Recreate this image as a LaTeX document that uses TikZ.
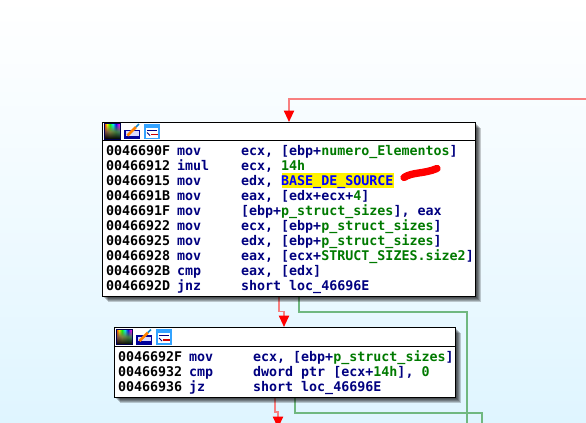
\documentclass[tikz,border=0pt]{standalone}
\usepackage{fontspec}
\setmonofont{DejaVu Sans Mono}
\usetikzlibrary{arrows.meta}
\definecolor{navyc}{HTML}{000080}
\definecolor{greenc}{HTML}{007A00}
\definecolor{bluec}{HTML}{0000FF}
\definecolor{redline}{HTML}{F88080}
\definecolor{greenline}{HTML}{70B880}
\definecolor{redhead}{HTML}{FF0000}
\definecolor{bgtop}{HTML}{FFFFFF}
\definecolor{bgmid}{HTML}{F0FAFF}
\definecolor{bgbot}{HTML}{DFF5FF}
\newcommand{\gn}[1]{\textcolor{greenc}{#1}}
\newcommand{\asmline}[5]{%
  \node[asmtext,text=black] (#1a) at (#2,#3) {#4};
  \node[asmtext,text=navyc] (#1b) at ([xshift=53.25pt]#1a.west) {#5};
}
\newcommand{\asmops}[3]{\node[asmtext,text=navyc] (#1c) at ([xshift=101.25pt]#1a.west) {#3};}
\tikzset{
  x=0.75pt,y=-0.75pt,
  asmtext/.style={anchor=west,inner sep=0pt,outer sep=0pt,font=\ttfamily\bfseries\fontsize{10}{10}\selectfont,text height=7pt,text depth=1.5pt},
  asmbox/.style={draw=black,line width=0.9pt,fill=white,rectangle,inner sep=0pt,anchor=north west},
  redflow/.style={draw=redline,line width=1.4pt},
  greenflow/.style={draw=greenline,line width=1.25pt},
  redtip/.style={-{Triangle[length=8.5pt,width=7.5pt,color=redhead]}},
  shadowfill/.style={fill=black,fill opacity=0.2,draw=none}
}
\begin{document}
\begin{tikzpicture}
\useasboundingbox (0,0) rectangle (586,422);
\shade[top color=bgtop,bottom color=bgbot,middle color=bgmid] (0,0) rectangle (586,422);
\clip (0,0) rectangle (586,422);

% connectors drawn first
\coordinate (topright) at (586,99);
\coordinate (bend1) at (289,99);
\coordinate (inA) at (289,122);
\coordinate (outAr) at (279,296);
\coordinate (bend2a) at (279,311.5);
\coordinate (bend2b) at (284,311.5);
\coordinate (inB) at (284,327);
\coordinate (outAg) at (299,296);
\coordinate (bend3a) at (299,312);
\coordinate (bend3b) at (467,312);
\coordinate (bottomG1) at (467,423);
\coordinate (outBr) at (275,397);
\coordinate (bend4a) at (275,412);
\coordinate (bend4b) at (278,412);
\coordinate (bottomR) at (278,428);
\coordinate (outBg) at (295,397);
\coordinate (bend5a) at (295,413);
\coordinate (bend5b) at (482,413);
\coordinate (bottomG2) at (482,423);

\draw[greenflow] (outAg) -- (bend3a) -- (bend3b) -- (bottomG1);
\draw[greenflow] (outBg) -- (bend5a) -- (bend5b) -- (bottomG2);
\draw[redflow,redtip] (topright) -- (bend1) -- (inA);
\draw[redflow,redtip] (outAr) -- (bend2a) -- (bend2b) -- (inB);
\draw[redflow,redtip] (outBr) -- (bend4a) -- (bend4b) -- (bottomR);

% shadows
\foreach \d in {2,3,4,5,6}{
  \fill[shadowfill] (102+\d,122+\d) rectangle (475+\d,296+\d);
  \fill[shadowfill] (114+\d,327+\d) rectangle (455+\d,397+\d);
}

% boxes
\node[asmbox,minimum width=279.75pt,minimum height=130.5pt] (boxA) at (102,122) {};
\node[asmbox,minimum width=255.75pt,minimum height=52.5pt] (boxB) at (114,327) {};
\draw[line width=0.7pt] (boxA.west |- 0,140.5) -- (boxA.east |- 0,140.5);
\draw[line width=0.7pt] (boxB.west |- 0,346) -- (boxB.east |- 0,346);

% icons
\foreach \ox/\oy in {104/123.5,116/329}{
  \foreach \i in {0,...,15}{
    \pgfmathsetmacro{\hh}{min(\i/15*0.85,1)}
    \definecolor{rb}{hsb}{\hh,1,1}
    \shade[top color=rb,bottom color=black] (\ox+\i,\oy) rectangle (\ox+\i+1.05,\oy+15.5);
  }
  \draw[draw=navyc!60!black,line width=0.6pt] (\ox,\oy) rectangle (\ox+16,\oy+15.5);
  \fill[blue!60!black] (\ox+20,\oy+6) rectangle (\ox+36,\oy+15.5);
  \fill[white!85!blue] (\ox+21.5,\oy+7.5) rectangle (\ox+34.5,\oy+12);
  \draw[orange,line width=2pt] (\ox+23.5,\oy+12) -- (\ox+32,\oy+3.5);
  \draw[cyan!70!blue,line width=1.2pt] (\ox+32,\oy+3.5) -- (\ox+35,\oy+0.5);
  \fill[blue!45!cyan!80!white] (\ox+40,\oy) rectangle (\ox+56,\oy+15.5);
  \fill[white] (\ox+42,\oy+4) rectangle (\ox+54,\oy+14);
  \draw[navyc,line width=0.6pt] (\ox+43,\oy+6.5) -- (\ox+53,\oy+6.5);
  \draw[red!80!black,line width=1.2pt] (\ox+47,\oy+11) -- (\ox+54,\oy+11);
  \draw[navyc,line width=0.6pt] (\ox+43,\oy+9) -- (\ox+46,\oy+12);
}

% highlight
\node[fill=yellow,inner sep=0pt,minimum width=84.5pt,minimum height=11.25pt,anchor=west] (hl) at (281.5,180.5) {};

% block A
\asmline{a1}{106}{152}{0046690F}{mov}
\asmops{a1}{}{ecx, [ebp+\gn{numero\_Elementos}]}
\asmline{a2}{106}{167}{00466912}{imul}
\asmops{a2}{}{ecx, \gn{14h}}
\asmline{a3}{106}{182}{00466915}{mov}
\asmops{a3}{}{edx, \textcolor{bluec}{BASE\_DE\_SOURCE}}
\asmline{a4}{106}{197}{0046691B}{mov}
\asmops{a4}{}{eax, [edx+ecx+\gn{4}]}
\asmline{a5}{106}{212}{0046691F}{mov}
\asmops{a5}{}{[ebp+\gn{p\_struct\_sizes}], eax}
\asmline{a6}{106}{227}{00466922}{mov}
\asmops{a6}{}{ecx, [ebp+\gn{p\_struct\_sizes}]}
\asmline{a7}{106}{242}{00466925}{mov}
\asmops{a7}{}{edx, [ebp+\gn{p\_struct\_sizes}]}
\asmline{a8}{106}{257}{00466928}{mov}
\asmops{a8}{}{eax, [ecx+\gn{STRUCT\_SIZES.size2}]}
\asmline{a9}{106}{272}{0046692B}{cmp}
\asmops{a9}{}{eax, [edx]}
\asmline{a10}{106}{287}{0046692D}{jnz}
\asmops{a10}{}{short loc\_46696E}

% block B
\asmline{b1}{118}{358}{0046692F}{mov}
\asmops{b1}{}{ecx, [ebp+\gn{p\_struct\_sizes}]}
\asmline{b2}{118}{373}{00466932}{cmp}
\asmops{b2}{}{dword ptr [ecx+\gn{14h}], \gn{0}}
\asmline{b3}{118}{388}{00466936}{jz}
\asmops{b3}{}{short loc\_46696E}

% scribble
\draw[red,line width=5.5pt,line cap=round] (404,177.5) .. controls (412,172) and (424,174) .. (437,168.5);
\end{tikzpicture}
\end{document}
